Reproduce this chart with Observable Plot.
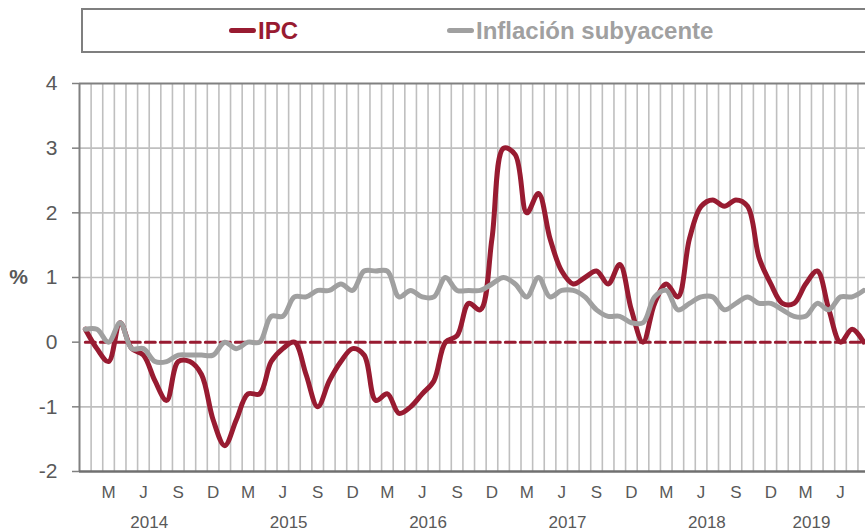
<!DOCTYPE html>
<html><head><meta charset="utf-8">
<script src="https://cdn.jsdelivr.net/npm/d3@7"></script>
<script src="https://cdn.jsdelivr.net/npm/@observablehq/plot@0.6"></script>
<style>
html,body{margin:0;padding:0;background:#fff;overflow:hidden;width:865px;height:532px;}
body{font-family:Arial,"Liberation Sans",sans-serif;}
#legend{position:relative;width:865px;height:62px;overflow:hidden;}
#legend .box{position:absolute;left:81px;top:8px;width:830px;height:41px;border:2px solid #7f7f7f;}
.item{position:absolute;top:17px;height:28px;line-height:28px;font-weight:bold;font-size:24px;white-space:nowrap;}
.swatch{display:inline-block;width:27px;height:5px;border-radius:3px;vertical-align:middle;margin-right:2px;position:relative;top:-2px;}
</style></head>
<body>
<div id="legend"><div class="box"></div></div>
<div id="chart"></div>
<script>
// Monthly values, Jan 2014 .. Aug 2019
const ipc = [
  0.2,-0.1,-0.3, 0.3,-0.1,-0.2,-0.6,-0.9,-0.3,-0.3,-0.5,-1.2,   // 2014
 -1.6,-1.2,-0.8,-0.8,-0.3,-0.1, 0.0,-0.5,-1.0,-0.6,-0.3,-0.1,   // 2015
 -0.2,-0.9,-0.8,-1.1,-1.0,-0.8,-0.6, 0.0, 0.1, 0.6, 0.5, 1.6,   // 2016
  3.0, 2.9, 2.0, 2.3, 1.6, 1.1, 0.9, 1.0, 1.1, 0.9, 1.2, 0.5,   // 2017
  0.0, 0.6, 0.9, 0.7, 1.6, 2.1, 2.2, 2.1, 2.2, 2.1, 1.3, 0.9,   // 2018
  0.6, 0.6, 0.9, 1.1, 0.5, 0.0, 0.2, 0.0                        // 2019
];
const core = [
  0.2, 0.2, 0.0, 0.3,-0.1,-0.1,-0.3,-0.3,-0.2,-0.2,-0.2,-0.2,
  0.0,-0.1, 0.0, 0.0, 0.4, 0.4, 0.7, 0.7, 0.8, 0.8, 0.9, 0.8,
  1.1, 1.1, 1.1, 0.7, 0.8, 0.7, 0.7, 1.0, 0.8, 0.8, 0.8, 0.9,
  1.0, 0.9, 0.7, 1.0, 0.7, 0.8, 0.8, 0.7, 0.5, 0.4, 0.4, 0.3,
  0.3, 0.7, 0.8, 0.5, 0.6, 0.7, 0.7, 0.5, 0.6, 0.7, 0.6, 0.6,
  0.5, 0.4, 0.4, 0.6, 0.5, 0.7, 0.7, 0.8
];
const seriesNames = ["IPC", "Inflación subyacente"];
const seriesColors = ["#981B31", "#A0A0A0"];
const quarterLabels = ["M", "J", "S", "D"];
const yearLabels = ["2014", "2015", "2016", "2017", "2018", "2019"];
const yearCenters = [5.5, 17.5, 29.5, 41.5, 53.5, 62.5];
const yTicks = [-2, -1, 0, 1, 2, 3, 4];
const yUnit = "%";

// legend
const legendPos = [229, 447];
const leg = document.getElementById("legend");
seriesNames.forEach((name, i) => {
  const it = document.createElement("div");
  it.className = "item";
  it.style.left = legendPos[i] + "px";
  it.style.color = seriesColors[i];
  const sw = document.createElement("span");
  sw.className = "swatch";
  sw.style.background = seriesColors[i];
  it.appendChild(sw);
  it.appendChild(document.createTextNode(name));
  leg.appendChild(it);
});

const data = ipc.map((v, i) => ({i, ipc: v, core: core[i]}));
const n = data.length;
const boundaries = d3.range(n - 1).map(k => k + 0.5);
const quarterTicks = data.map(d => d.i).filter(k => k % 3 === 2);

const red = seriesColors[0], gray = seriesColors[1];
const txt = "#595959";

const chart = Plot.plot({
  width: 865,
  height: 470,
  marginTop: 21,
  marginBottom: 61,
  marginLeft: 79,
  marginRight: 0,
  style: {fontFamily: "Arial, 'Liberation Sans', sans-serif", background: "white", overflow: "hidden"},
  x: {type: "linear", domain: [-0.5, 67.15], label: null},
  y: {domain: [-2, 4], label: null},
  marks: [
    Plot.ruleX(boundaries, {stroke: "#BFBFBF", strokeWidth: 1.6}),
    Plot.ruleY(yTicks.filter(t => t > -2 && t < 4 && t !== 0), {stroke: "#BFBFBF", strokeWidth: 1.6}),
    Plot.ruleY([4], {stroke: "#808080", strokeWidth: 2}),
    Plot.ruleX([-0.5], {stroke: "#808080", strokeWidth: 2}),
    Plot.ruleY([-2], {stroke: "#707070", strokeWidth: 2.5}),
    Plot.line(data, {x: "i", y: () => 0, stroke: red, strokeWidth: 3, strokeDasharray: "10,5"}),
    Plot.line(data, {x: "i", y: "ipc", stroke: red, strokeWidth: 5, curve: "catmull-rom", strokeLinejoin: "round", strokeLinecap: "round"}),
    Plot.line(data, {x: "i", y: "core", stroke: gray, strokeWidth: 5, curve: "catmull-rom", strokeLinejoin: "round", strokeLinecap: "round"}),
    Plot.axisY({ticks: yTicks, tickSize: 7, tickPadding: 15, fontSize: 21, fill: txt, stroke: "#808080", strokeWidth: 1.5, label: null, tickFormat: d => String(d)}),
    Plot.axisX({ticks: quarterTicks, tickSize: 0, tickPadding: 14, fontSize: 17, fill: txt, label: null,
      tickFormat: d => quarterLabels[((d - 2) / 3) % 4]}),
    Plot.axisX({ticks: yearCenters, tickSize: 0, tickPadding: 44, fontSize: 17, fill: txt, label: null,
      tickFormat: d => yearLabels[yearCenters.indexOf(d)]}),
    Plot.text([yUnit], {x: -0.5, y: 1, dx: -61, text: d => d, fontSize: 21, fontWeight: "bold", fill: txt, textAnchor: "middle"})
  ]
});
document.getElementById("chart").appendChild(chart);
</script>
</body></html>
